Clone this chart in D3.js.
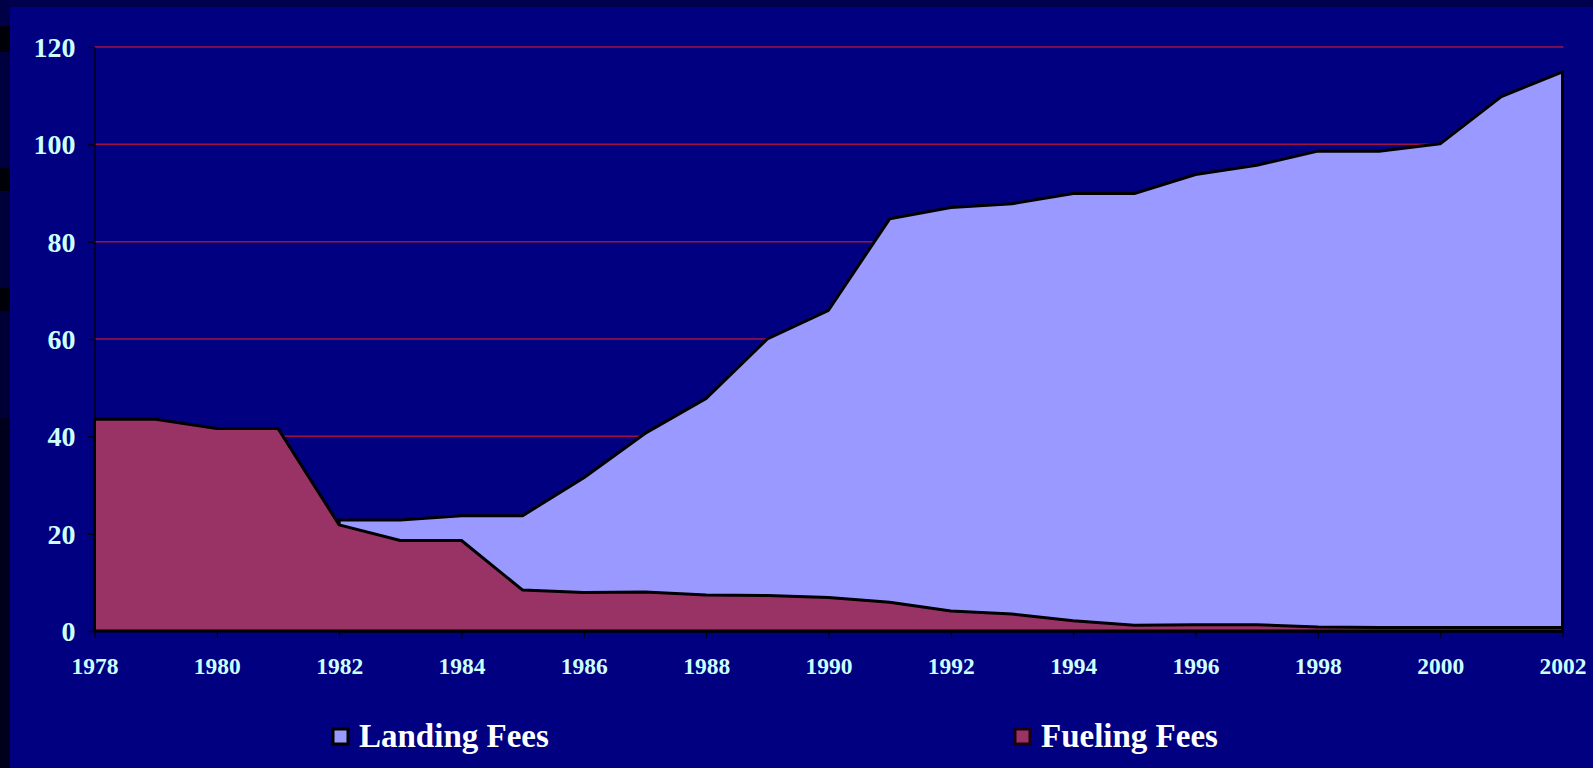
<!DOCTYPE html>
<html>
<head>
<meta charset="utf-8">
<script src="https://cdn.jsdelivr.net/npm/d3@7"></script>
<style>
  html, body { margin: 0; padding: 0; background: #000080; overflow: hidden; }
  svg { display: block; }
</style>
</head>
<body>
<svg id="chart" width="1593" height="768"></svg>
<script>
// ---- Data ----
const years = [1978,1979,1980,1981,1982,1983,1984,1985,1986,1987,1988,1989,1990,
               1991,1992,1993,1994,1995,1996,1997,1998,1999,2000,2001,2002];
const landingFees = [null,null,null,null,22.8,22.8,23.7,23.7,31.5,40.6,47.8,60.0,65.9,
                     84.7,87.0,87.8,89.9,89.9,93.8,95.7,98.6,98.6,100.1,109.8,114.9];
const fuelingFees = [43.5,43.5,41.6,41.6,21.8,18.6,18.6,8.4,7.9,8.0,7.4,7.3,6.9,
                     5.9,4.1,3.5,2.1,1.2,1.3,1.3,0.8,0.7,0.7,0.7,0.7];
const yTicks = [0,20,40,60,80,100,120];
const xTicks = [1978,1980,1982,1984,1986,1988,1990,1992,1994,1996,1998,2000,2002];
const seriesNames = ["Landing Fees","Fueling Fees"];
const seriesColors = ["#9999FF","#993366"];

const svg = d3.select("#chart");
const W = 1593, H = 768;
const serif = "'Liberation Serif','Times New Roman',serif";

// ---- Frame decoration ----
svg.append("rect").attr("x",0).attr("y",0).attr("width",W).attr("height",H).attr("fill","#000080");
svg.append("rect").attr("x",0).attr("y",0).attr("width",W).attr("height",7).attr("fill","#00004c");
const strip = [[0,26,"#000046"],[26,52,"#000008"],[52,168,"#00003e"],[168,191,"#000008"],
               [191,288,"#00003a"],[288,311,"#000008"],[311,418,"#000036"],[418,768,"#00001c"]];
svg.selectAll("rect.strip").data(strip).enter().append("rect")
  .attr("class","strip").attr("x",0).attr("width",10)
  .attr("y",d=>d[0]).attr("height",d=>d[1]-d[0]).attr("fill",d=>d[2]);

// ---- Scales ----
const x0 = 94.5, x1 = 1562.5, yTop = 47, yBot = 631;
const x = d3.scaleLinear().domain([1978,2002]).range([x0,x1]);
const y = d3.scaleLinear().domain([0,120]).range([yBot,yTop]);

// ---- Gridlines ----
svg.append("g").selectAll("line").data(yTicks.filter(v=>v>0)).enter().append("line")
  .attr("x1",x0).attr("x2",x1+1)
  .attr("y1",d=>y(d)).attr("y2",d=>y(d))
  .attr("stroke","#a3123e").attr("stroke-width",1.5);

// ---- Areas ----
const landingData = years.map((yr,i)=>({yr, v: landingFees[i]}));
const fuelingData = years.map((yr,i)=>({yr, v: fuelingFees[i]}));
const area = d3.area()
  .defined(d=>d.v !== null)
  .x(d=>x(d.yr)).y0(y(0)).y1(d=>y(d.v));

svg.append("path").datum(landingData).attr("d",area)
  .attr("fill",seriesColors[0]).attr("stroke","#000").attr("stroke-width",3)
  .attr("stroke-linejoin","round");
svg.append("path").datum(fuelingData).attr("d",area)
  .attr("fill",seriesColors[1]).attr("stroke","#000").attr("stroke-width",3)
  .attr("stroke-linejoin","round");

// ---- Axes ----
const yAxis = d3.axisLeft(y).tickValues(yTicks).tickSize(7).tickSizeOuter(0).tickPadding(12)
  .tickFormat(d3.format("d"));
const gy = svg.append("g").attr("transform",`translate(${x0},0)`).call(yAxis);
gy.select(".domain").attr("stroke","#000").attr("stroke-width",1.2);
gy.selectAll(".tick line").attr("stroke","#000").attr("stroke-width",1.2);
gy.selectAll(".tick text").attr("fill","#CCFFFF").attr("font-family",serif)
  .attr("font-weight","bold").attr("font-size",28).attr("dy","0.34em");

const xAxis = d3.axisBottom(x).tickValues(xTicks).tickSize(7).tickSizeOuter(0).tickPadding(19)
  .tickFormat(d3.format("d"));
const gx = svg.append("g").attr("transform",`translate(0,${yBot})`).call(xAxis);
gx.select(".domain").attr("stroke","#000").attr("stroke-width",1.2);
gx.selectAll(".tick line").attr("stroke","#000").attr("stroke-width",1.2);
gx.selectAll(".tick text").attr("fill","#CCFFFF").attr("font-family",serif)
  .attr("font-weight","bold").attr("font-size",23.5);

// ---- Legend ----
const legendPos = [{sx:333, tx:359},{sx:1015, tx:1041}];
const lg = svg.append("g").selectAll("g").data(seriesNames).enter().append("g");
lg.append("rect")
  .attr("x",(d,i)=>legendPos[i].sx).attr("y",729).attr("width",15).attr("height",15)
  .attr("fill",(d,i)=>seriesColors[i]).attr("stroke",(d,i)=>i===0?"#000":"#1a0010").attr("stroke-width",3);
lg.append("text")
  .attr("x",(d,i)=>legendPos[i].tx).attr("y",747)
  .attr("fill","#ffffff").attr("font-family",serif).attr("font-weight","bold").attr("font-size",33)
  .text(d=>d);
</script>
</body>
</html>
